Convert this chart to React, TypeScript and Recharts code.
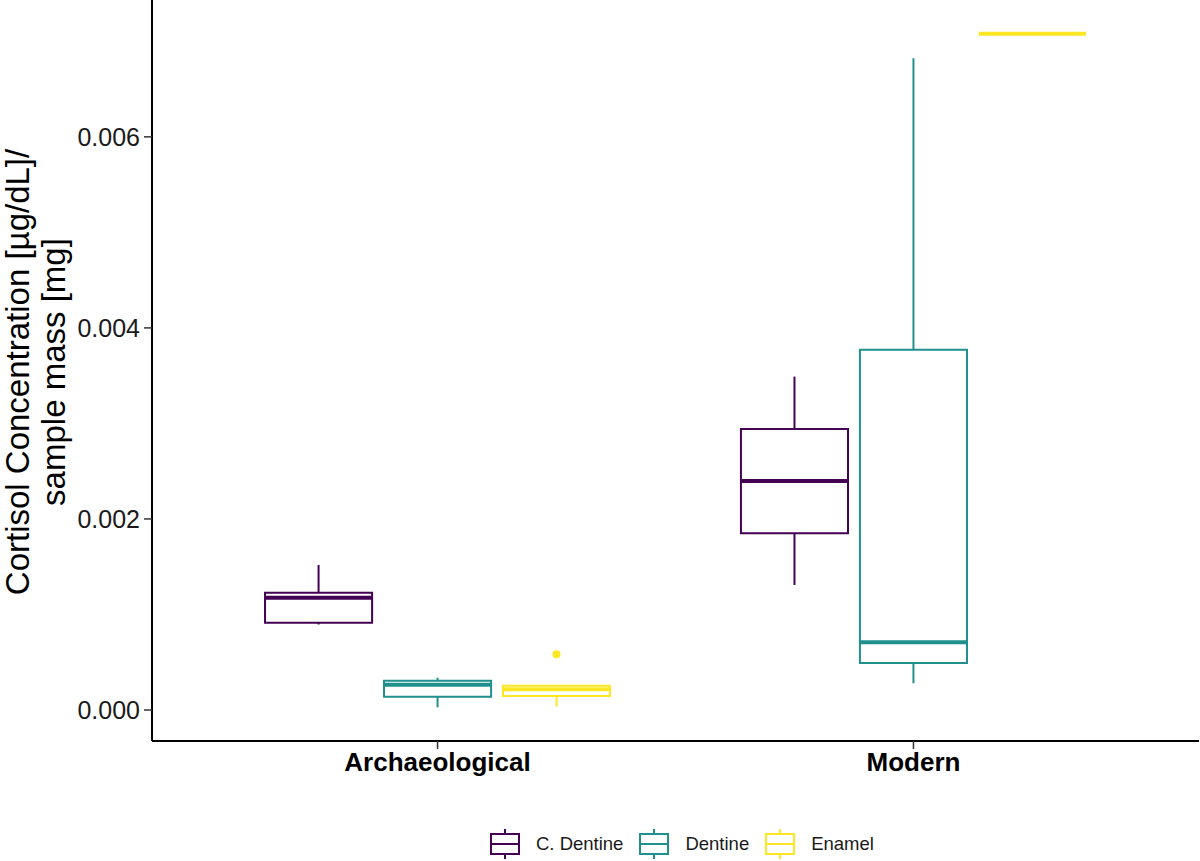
import {
  ComposedChart,
  XAxis,
  YAxis,
  Scatter,
  ReferenceArea,
  ReferenceLine,
  Legend,
} from "recharts";

const FONT = '"Liberation Sans", Arial, sans-serif';

const categories = ["Archaeological", "Modern"];
const tissues = ["C. Dentine", "Dentine", "Enamel"];
const tissueColors = ["#440154", "#21908C", "#FDE725"];

// [min, lower hinge, median, upper hinge, max] per category
const cDentineStats = [
  [0.000895, 0.000914, 0.001176, 0.001228, 0.001518],
  [0.001309, 0.00185, 0.002398, 0.002942, 0.00349],
];
const dentineStats = [
  [0.000028, 0.000139, 0.000265, 0.000307, 0.000338],
  [0.00028, 0.000492, 0.000709, 0.00377, 0.006824],
];
const enamelStats = [
  [0.000035, 0.000147, 0.000217, 0.000254, 0.000254],
  [0.00708, 0.00708, 0.00708, 0.00708, 0.00708],
];
const enamelOutliers = [[0.000583], []];

const yTicks = [0, 0.002, 0.004, 0.006];

const allStats = [cDentineStats, dentineStats, enamelStats];
const outliersByTissue = [[[], []], [[], []], enamelOutliers];

// ggplot-like 5% expansion of the data range
const dataMin = Math.min(...allStats.flat(2));
const dataMax = Math.max(...allStats.flat(2));
const pad = (dataMax - dataMin) * 0.05;
const yDomain = [dataMin - pad, dataMax + pad];

const DODGE = 0.25;
const BOX_W = 0.225;

const boxCenter = (ci: number, ti: number) => ci + 1 + (ti - 1) * DODGE;

const outlierData = tissues.flatMap((t, ti) =>
  categories.flatMap((c, ci) =>
    outliersByTissue[ti][ci].map((v) => ({ x: boxCenter(ci, ti), y: v, ti }))
  )
);

function boxElements() {
  const els: any[] = [];
  tissues.forEach((t, ti) => {
    categories.forEach((c, ci) => {
      const [lo, q1, med, q3, hi] = allStats[ti][ci];
      const x = boxCenter(ci, ti);
      const x1 = x - BOX_W / 2;
      const x2 = x + BOX_W / 2;
      const col = tissueColors[ti];
      const k = `${ti}-${ci}`;
      if (hi > q3)
        els.push(
          <ReferenceLine key={`wu${k}`} segment={[{ x, y: q3 }, { x, y: hi }]} stroke={col} strokeWidth={2} ifOverflow="visible" />
        );
      if (lo < q1)
        els.push(
          <ReferenceLine key={`wl${k}`} segment={[{ x, y: lo }, { x, y: q1 }]} stroke={col} strokeWidth={2} ifOverflow="visible" />
        );
      if (q3 > q1)
        els.push(
          <ReferenceArea key={`b${k}`} x1={x1} x2={x2} y1={q1} y2={q3} fill="#fff" fillOpacity={0} stroke={col} strokeWidth={2} strokeOpacity={1} ifOverflow="visible" />
        );
      els.push(
        <ReferenceLine key={`m${k}`} segment={[{ x: x1, y: med }, { x: x2, y: med }]} stroke={col} strokeWidth={4} ifOverflow="visible" />
      );
    });
  });
  return els;
}

const YTitle = () => (
  <g fontFamily={FONT} fontSize={33} fill="#000">
    <text x={29} y={372} textAnchor="middle" transform="rotate(-90, 29, 372)">
      Cortisol Concentration [µg/dL]/
    </text>
    <text x={65} y={372} textAnchor="middle" transform="rotate(-90, 65, 372)">
      sample mass [mg]
    </text>
  </g>
);

const renderLegend = () => (
  <div
    style={{
      display: "flex",
      alignItems: "center",
      height: 34,
      paddingLeft: 490,
      fontFamily: FONT,
      fontSize: 18.5,
      color: "#1a1a1a",
    }}
  >
    {tissues.map((t, i) => (
      <div key={t} style={{ display: "flex", alignItems: "center", marginRight: 16 }}>
        <svg width={30} height={30}>
          <line x1={15} y1={0} x2={15} y2={5} stroke={tissueColors[i]} strokeWidth={2} />
          <line x1={15} y1={25} x2={15} y2={30} stroke={tissueColors[i]} strokeWidth={2} />
          <rect x={1} y={5} width={28} height={20} fill="#fff" stroke={tissueColors[i]} strokeWidth={2} />
          <line x1={1} y1={15} x2={29} y2={15} stroke={tissueColors[i]} strokeWidth={2} />
        </svg>
        <span style={{ marginLeft: 16 }}>{t}</span>
      </div>
    ))}
  </div>
);

export default function App() {
  return (
    <div
      style={{
        position: "absolute",
        left: 0,
        top: 0,
        width: 1200,
        height: 861,
        background: "#fff",
        fontFamily: FONT,
      }}
    >
      <ComposedChart width={1200} height={861} margin={{ top: 0, right: 1, bottom: 0, left: 0 }}>
        <XAxis
          type="number"
          dataKey="x"
          domain={[0.4, 2.6]}
          ticks={[1, 2]}
          tickFormatter={(v) => categories[v - 1]}
          allowDataOverflow
          height={86}
          axisLine={{ stroke: "#000", strokeWidth: 2 }}
          tickLine={{ stroke: "#333", strokeWidth: 1.5 }}
          tickSize={8}
          tickMargin={4}
          tick={{ fontSize: 26, fontWeight: 700, fill: "#000" }}
        />
        <YAxis
          type="number"
          dataKey="y"
          domain={yDomain}
          ticks={yTicks}
          tickFormatter={(v) => v.toFixed(3)}
          allowDataOverflow
          width={152}
          axisLine={{ stroke: "#000", strokeWidth: 2 }}
          tickLine={{ stroke: "#333", strokeWidth: 1.5 }}
          tickSize={8}
          tickMargin={4}
          tick={{ fontSize: 25, fill: "#1a1a1a" }}
          label={{ content: YTitle }}
        />
        {boxElements()}
        <Scatter
          data={outlierData}
          isAnimationActive={false}
          legendType="none"
          shape={(p: any) => <circle cx={p.cx} cy={p.cy} r={4} fill={tissueColors[p.payload.ti]} />}
        />
        <Legend
          verticalAlign="bottom"
          content={renderLegend}
          wrapperStyle={{ left: 0, width: 1200, height: 34 }}
        />
      </ComposedChart>
    </div>
  );
}
